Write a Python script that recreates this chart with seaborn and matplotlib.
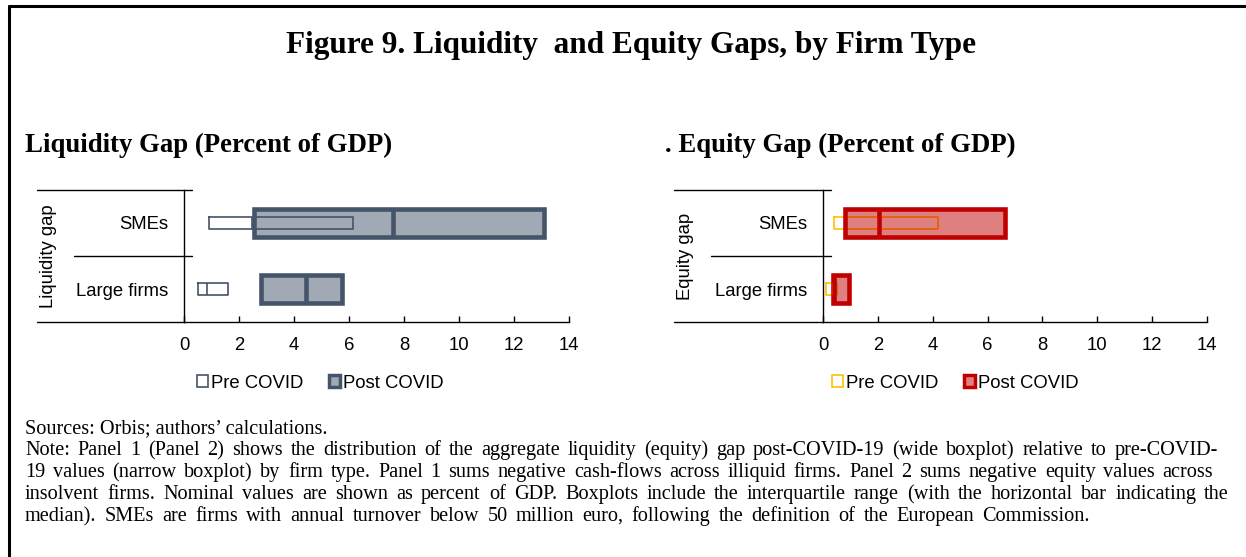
import pandas as pd
import matplotlib.pyplot as plt
import seaborn as sns
from matplotlib.lines import Line2D
from matplotlib.patches import Patch

sns.set_style("white")
plt.rcParams['font.family'] = ['Liberation Sans', 'DejaVu Sans']
plt.rcParams['text.color'] = 'black'
plt.rcParams['xtick.color'] = 'black'
plt.rcParams['ytick.color'] = 'black'
plt.rcParams['axes.labelcolor'] = 'black'

firms = ["SMEs", "Large firms"]

# quartiles: [Q1, median, Q3] per firm type
liq_pre = [[0.92, 2.48, 6.15], [0.50, 0.84, 1.60]]
liq_post = [[2.55, 7.60, 13.10], [2.80, 4.45, 5.73]]
eq_pre = [[0.40, 2.00, 4.20], [0.10, 0.35, 0.50]]
eq_post = [[0.82, 2.05, 6.65], [0.35, 0.40, 0.95]]

x_ticks = [0, 2, 4, 6, 8, 10, 12, 14]

notes = [
    "Sources: Orbis; authors\u2019 calculations.",
    "Note: Panel 1 (Panel 2) shows the distribution of the aggregate  liquidity (equity) gap post-COVID-19 (wide boxplot) relative to pre-COVID-",
    "19 values (narrow boxplot) by firm type. Panel 1 sums negative cash-flows  across illiquid firms. Panel 2 sums negative equity values across",
    "insolvent firms. Nominal values are shown as percent  of GDP. Boxplots include the interquartile range (with the horizontal bar indicating the",
    "median). SMEs are firms with annual turnover below 50 million euro, following the definition of the European  Commission.",
]
# right edge of each note line in the original (pixels), None = natural width
note_right = [None, 1218, 1213, 1229, 1090]

W, H = 1246, 557
FS = 13.3
NOTE_FS = 14.6


def box_frame(quarts):
    # five points whose quartiles are exactly Q1 / median / Q3
    rows = []
    for firm, (q1, med, q3) in zip(firms, quarts):
        for v in [q1, q1, med, q3, q3]:
            rows.append({"firm": firm, "gap": v})
    return pd.DataFrame(rows)


def draw_panel(ax, pre, post, edge, pre_edge, fill, ylabel, x_left):
    common = dict(x="gap", y="firm", order=firms, orient="h", whis=0,
                  showcaps=False, showfliers=False, ax=ax)
    sns.boxplot(data=box_frame(pre), width=0.17, fill=False, color=pre_edge,
                linecolor=pre_edge, linewidth=1.2, **common)
    sns.boxplot(data=box_frame(post), width=0.42, color=fill, linecolor=edge,
                linewidth=3.3, boxprops=dict(facecolor=fill, edgecolor=edge),
                medianprops=dict(color=edge, linewidth=3.3), **common)
    ax.set_xlim(0, 14)
    ax.set_ylim(1.5, -0.5)
    ax.set_xticks(x_ticks)
    ax.set_xlabel("")
    ax.set_ylabel("")
    for s in ["top", "right"]:
        ax.spines[s].set_visible(False)
    for s in ["left", "bottom"]:
        ax.spines[s].set_color("black")
        ax.spines[s].set_linewidth(1.0)
    ax.tick_params(axis="x", direction="in", length=4, width=1, pad=11,
                   labelsize=FS, bottom=True)
    ax.tick_params(axis="y", length=0, pad=11.5, labelsize=FS)
    # multi-level category axis lines
    ax.plot([x_left, 0.02], [1, 1], transform=ax.transAxes, color="black",
            lw=1.0, clip_on=False)
    ax.plot([x_left + 0.096, 0.02], [0.5, 0.5], transform=ax.transAxes,
            color="black", lw=1.0, clip_on=False)
    ax.plot([x_left, 0], [0, 0], transform=ax.transAxes, color="black",
            lw=1.0, clip_on=False)
    ax.text(x_left + 0.03, 0.5, ylabel, transform=ax.transAxes, rotation=90,
            ha="center", va="center", fontsize=FS)


fig = plt.figure(figsize=(W / 100, H / 100), dpi=100)

ax1 = fig.add_axes([184 / W, 235 / H, 385 / W, 132 / H])
ax2 = fig.add_axes([823 / W, 235 / H, 384 / W, 132 / H])

grey = "#44546A"
red = "#C00000"
draw_panel(ax1, liq_pre, liq_post, grey, grey, (0.267, 0.329, 0.416, 0.5),
           "Liquidity gap", (37 - 184) / 385)
draw_panel(ax2, eq_pre, eq_post, red, "#FFC000", (0.753, 0.0, 0.0, 0.5),
           "Equity gap", (674 - 823) / 384)

# legends
leg_kw = dict(loc="center", ncol=2, frameon=False, fontsize=FS,
              handlelength=0.6, handleheight=0.6, handletextpad=0.15,
              columnspacing=1.4)
fig.legend(handles=[Patch(facecolor="white", edgecolor=grey, lw=1.2, label="Pre COVID"),
                    Patch(facecolor="#A1A9B4", edgecolor=grey, lw=2.5, label="Post COVID")],
           bbox_to_anchor=(320 / W, 1 - 383 / H), **leg_kw)
fig.legend(handles=[Patch(facecolor="white", edgecolor="#FFC000", lw=1.2, label="Pre COVID"),
                    Patch(facecolor="#E08080", edgecolor=red, lw=2.5, label="Post COVID")],
           bbox_to_anchor=(955 / W, 1 - 383 / H), **leg_kw)

serif = ["Liberation Serif", "DejaVu Serif"]
fig.text(631 / W, 1 - 45 / H, "Figure 9. Liquidity  and Equity Gaps, by Firm Type",
         ha="center", va="center", fontsize=22.5, fontweight="bold", family=serif)
fig.text(25 / W, 1 - 145 / H, "Liquidity Gap (Percent of GDP)", ha="left",
         va="center", fontsize=19.3, fontweight="bold", family=serif)
fig.text(665 / W, 1 - 145 / H, ". Equity Gap (Percent of GDP)", ha="left",
         va="center", fontsize=19.3, fontweight="bold", family=serif)

# note lines, spread word by word to the original line widths
renderer = fig.canvas.get_renderer()
for i, (line, right) in enumerate(zip(notes, note_right)):
    y = 1 - (433 + 22 * i) / H
    if right is None:
        fig.text(25 / W, y, line, ha="left", va="baseline", fontsize=NOTE_FS,
                 family=serif)
        continue
    words = line.split()
    arts = [fig.text(0, y, w, ha="left", va="baseline", fontsize=NOTE_FS,
                     family=serif) for w in words]
    widths = [a.get_window_extent(renderer).width for a in arts]
    gap = (right - 25 - sum(widths)) / (len(words) - 1)
    x = 25
    for a, w in zip(arts, widths):
        a.set_x(x / W)
        x += w + gap

# frame
fig.add_artist(Line2D([9 / W, 9 / W], [0, 1 - 6 / H], color="black", lw=2.2))
fig.add_artist(Line2D([9 / W, 1], [1 - 6 / H, 1 - 6 / H], color="black", lw=2.2))

plt.savefig("out.png", dpi=100)
plt.close()
